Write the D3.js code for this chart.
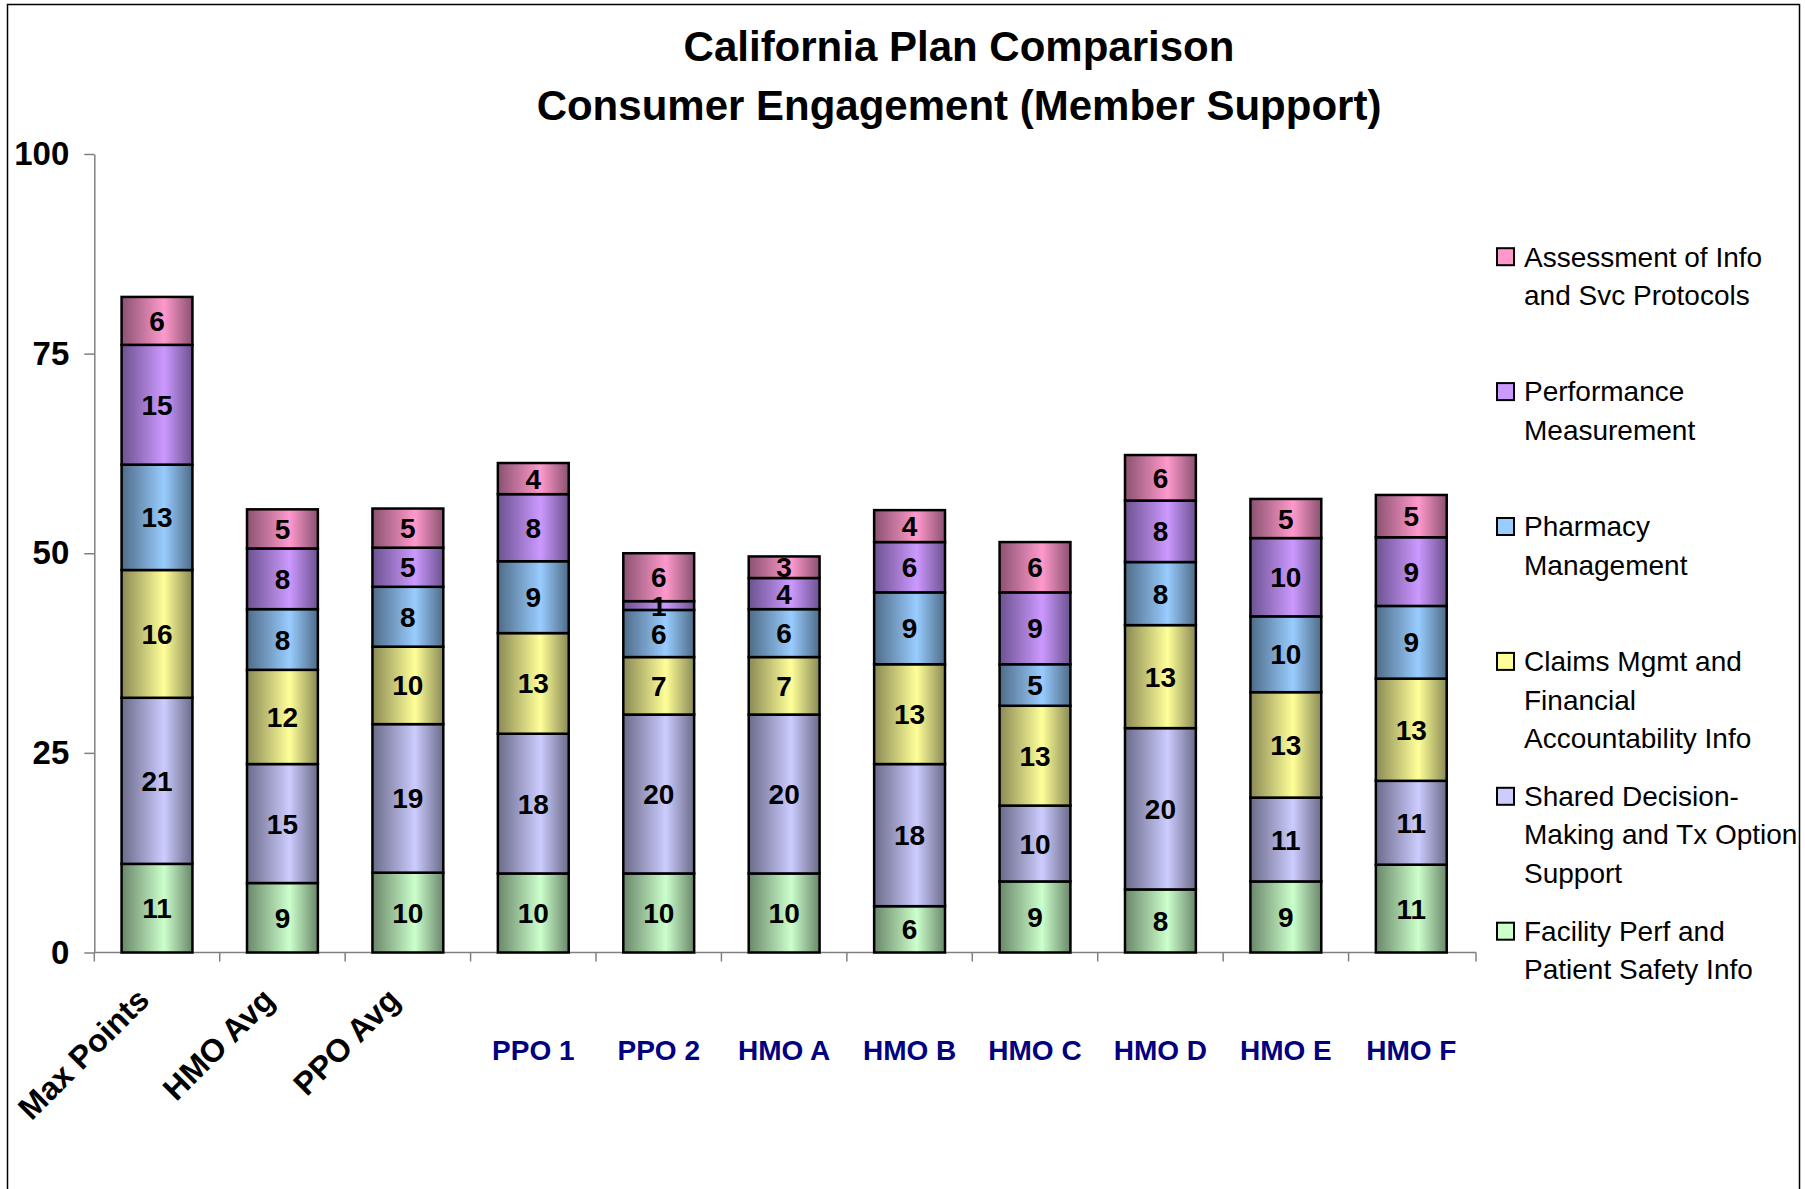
<!DOCTYPE html>
<html>
<head>
<meta charset="utf-8">
<script src="https://cdn.jsdelivr.net/npm/d3@7"></script>
<style>
  html, body { margin: 0; padding: 0; background: #fff; }
  svg { display: block; font-family: "Liberation Sans", Arial, sans-serif; }
</style>
</head>
<body>
<svg id="chart" width="1805" height="1189"></svg>
<script>
// ---------- data ----------
const categories = ["Max Points", "HMO Avg", "PPO Avg", "PPO 1", "PPO 2", "HMO A", "HMO B", "HMO C", "HMO D", "HMO E", "HMO F"];
const seriesNames = [
  "Facility Perf and Patient Safety Info",
  "Shared Decision-Making and Tx Option Support",
  "Claims Mgmt and Financial Accountability Info",
  "Pharmacy Management",
  "Performance Measurement",
  "Assessment of Info and Svc Protocols"
];
const facility    = [11.1,  8.7, 10.0,  9.9,  9.9,  9.9,  5.8,  8.9,  7.9,  8.9, 11.0];
const shared      = [20.8, 14.9, 18.6, 17.5, 19.9, 19.9, 17.8,  9.5, 20.2, 10.5, 10.5];
const claims      = [16.0, 11.8,  9.7, 12.6,  7.2,  7.2, 12.5, 12.5, 12.9, 13.2, 12.8];
const pharmacy    = [13.2,  7.6,  7.5,  9.0,  5.9,  6.0,  9.0,  5.2,  7.9,  9.5,  9.1];
const performance = [15.0,  7.6,  4.9,  8.4,  1.1,  3.9,  6.3,  9.0,  7.7,  9.8,  8.6];
const assessment  = [ 6.0,  4.9,  4.9,  3.9,  6.0,  2.7,  4.0,  6.3,  5.7,  4.9,  5.3];
const yTicks = [0, 25, 50, 75, 100];
const legendLines = [
  ["Assessment of Info", "and Svc Protocols"],
  ["Performance", "Measurement"],
  ["Pharmacy", "Management"],
  ["Claims Mgmt and", "Financial", "Accountability Info"],
  ["Shared Decision-", "Making and Tx Option", "Support"],
  ["Facility Perf and", "Patient Safety Info"]
];

// ---------- styles ----------
const lightColors = ["#CCFFCC", "#CCCCFF", "#FFFF99", "#99CCFF", "#CC99FF", "#FF99CC"];
const darkColors  = ["#6A876A", "#6B6B8A", "#8A8A55", "#4F6C88", "#6C5290", "#8A5270"];

const seriesValues = [facility, shared, claims, pharmacy, performance, assessment];
const rows = categories.map((c, i) => {
  const r = { cat: c };
  seriesNames.forEach((s, k) => r[s] = seriesValues[k][i]);
  return r;
});

const svg = d3.select("#chart");
const defs = svg.append("defs");
lightColors.forEach((lc, k) => {
  const g = defs.append("linearGradient").attr("id", "grad" + k)
    .attr("x1", "0%").attr("x2", "100%").attr("y1", "0%").attr("y2", "0%");
  g.append("stop").attr("offset", "0%").attr("stop-color", darkColors[k]);
  g.append("stop").attr("offset", "60%").attr("stop-color", lc);
  g.append("stop").attr("offset", "100%").attr("stop-color", darkColors[k]);
});

// chart frame
svg.append("rect").attr("x", 7.5).attr("y", 4.5).attr("width", 1792).attr("height", 1250)
  .attr("fill", "#fff").attr("stroke", "#000").attr("stroke-width", 1.5);

// title
const title = svg.append("text").attr("text-anchor", "middle")
  .attr("font-weight", "bold").attr("font-size", 42).attr("fill", "#000");
title.append("tspan").attr("x", 959).attr("y", 61).text("California Plan Comparison");
title.append("tspan").attr("x", 959).attr("y", 120).text("Consumer Engagement (Member Support)");

// scales
const x0 = 94.3, x1 = 1476;
const x = d3.scaleBand().domain(categories).range([x0, x1 - 2]).paddingInner(0.435).paddingOuter(0.2175);
const y = d3.scaleLinear().domain([0, 100]).range([952.5, 154]);

// y axis
const yAxis = svg.append("g").attr("transform", `translate(${x0},0)`)
  .call(d3.axisLeft(y).tickValues(yTicks).tickSize(10).tickPadding(15).tickSizeOuter(0));
yAxis.select(".domain").attr("stroke", "#808080").attr("stroke-width", 1.5);
yAxis.selectAll(".tick line").attr("stroke", "#808080").attr("stroke-width", 1.5);
yAxis.selectAll(".tick text").attr("font-size", 33).attr("font-weight", "bold")
  .attr("fill", "#000").attr("font-family", "Liberation Sans, Arial, sans-serif");

// x axis line + ticks at band boundaries
const xAxisG = svg.append("g");
xAxisG.append("line").attr("x1", x0).attr("x2", x1).attr("y1", y(0)).attr("y2", y(0))
  .attr("stroke", "#808080").attr("stroke-width", 1.5);
const boundaries = categories.map(c => x(c) - x.step() * x.paddingInner() / 2).concat([x1]);
xAxisG.selectAll("line.tk").data(boundaries).enter().append("line").attr("class", "tk")
  .attr("x1", d => d).attr("x2", d => d).attr("y1", y(0)).attr("y2", y(0) + 9)
  .attr("stroke", "#808080").attr("stroke-width", 1.5);

// bars
const stack = d3.stack().keys(seriesNames);
const stacked = stack(rows);
const layers = svg.append("g").selectAll("g.layer").data(stacked).enter().append("g").attr("class", "layer");
layers.selectAll("rect").data((d, k) => d.map(p => ({ p, k }))).enter().append("rect")
  .attr("x", d => x(d.p.data.cat))
  .attr("width", x.bandwidth())
  .attr("y", d => y(d.p[1]))
  .attr("height", d => y(d.p[0]) - y(d.p[1]))
  .attr("fill", d => `url(#grad${d.k})`)
  .attr("stroke", "#000").attr("stroke-width", 2.5);

// value labels
const labels = svg.append("g");
stacked.forEach(layer => {
  layer.forEach(p => {
    labels.append("text")
      .attr("x", x(p.data.cat) + x.bandwidth() / 2)
      .attr("y", (y(p[0]) + y(p[1])) / 2)
      .attr("dy", "0.36em")
      .attr("text-anchor", "middle")
      .attr("font-size", 28).attr("font-weight", "bold").attr("fill", "#000")
      .text(Math.round(p.data[layer.key]));
  });
});

// category labels
categories.forEach((c, i) => {
  const cx = x(c) + x.bandwidth() / 2;
  if (i < 3) {
    svg.append("text")
      .attr("transform", `translate(${cx - 6},${1002}) rotate(-45)`)
      .attr("text-anchor", "end")
      .attr("font-size", 32).attr("font-weight", "bold").attr("fill", "#000")
      .text(c);
  } else {
    svg.append("text")
      .attr("x", cx).attr("y", 1060)
      .attr("text-anchor", "middle")
      .attr("font-size", 28).attr("font-weight", "bold").attr("fill", "#000080")
      .text(c);
  }
});

// legend (top = last series)
const legend = svg.append("g");
const legendOrder = [5, 4, 3, 2, 1, 0];
legendOrder.forEach((k, j) => {
  const cy = 256.7 + j * 134.9;
  legend.append("rect").attr("x", 1497).attr("y", cy - 8.5).attr("width", 17).attr("height", 17)
    .attr("fill", lightColors[k]).attr("stroke", "#000").attr("stroke-width", 2);
  const t = legend.append("text").attr("font-size", 28).attr("fill", "#000");
  legendLines[j].forEach((ln, li) => {
    t.append("tspan").attr("x", 1524).attr("y", cy + li * 38.3).attr("dy", "0.35em").text(ln);
  });
});
</script>
</body>
</html>
